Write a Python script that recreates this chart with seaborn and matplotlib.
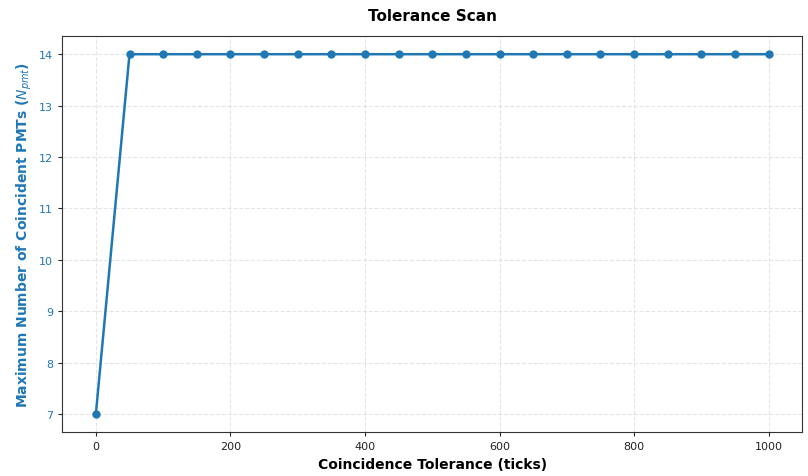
import numpy as np
import pandas as pd
import matplotlib
matplotlib.use("Agg")
import matplotlib.pyplot as plt
import seaborn as sns

# Tolerance scan results
tolerance_ticks = [0, 50, 100, 150, 200, 250, 300, 350, 400, 450, 500,
                   550, 600, 650, 700, 750, 800, 850, 900, 950, 1000]
max_coincident = [7, 14, 14, 14, 14, 14, 14, 14, 14, 14, 14,
                  14, 14, 14, 14, 14, 14, 14, 14, 14, 14]

df = pd.DataFrame({"tolerance": tolerance_ticks, "n_pmt": max_coincident})

sns.set_style("white")
plt.rcParams["font.family"] = ["DejaVu Sans"]
plt.rcParams["text.color"] = "black"
plt.rcParams["axes.labelcolor"] = "black"

fig, ax = plt.subplots(figsize=(8.08, 4.77), dpi=100)
fig.subplots_adjust(left=0.077, right=0.993, top=0.922, bottom=0.092)

color = "tab:blue"
sns.lineplot(data=df, x="tolerance", y="n_pmt", marker="o", markersize=6,
             markeredgewidth=0, color=color, linewidth=1.8, ax=ax)

ax.set_xlabel("Coincidence Tolerance (ticks)", fontsize=10, fontweight="bold")
ax.set_ylabel(r"Maximum Number of Coincident PMTs ($N_{pmt}$)", fontsize=10,
              fontweight="bold", color=color)
ax.set_title("Tolerance Scan", fontsize=11, fontweight="bold", pad=12)
ax.tick_params(axis="y", labelcolor=color, labelsize=8, left=True, length=3)
ax.tick_params(axis="x", labelsize=8, bottom=True, length=3, labelcolor="#222222")
ax.grid(True, linestyle="--", alpha=0.5)
for s in ax.spines.values():
    s.set_color("#333333")

plt.savefig("out.png", dpi=100)
